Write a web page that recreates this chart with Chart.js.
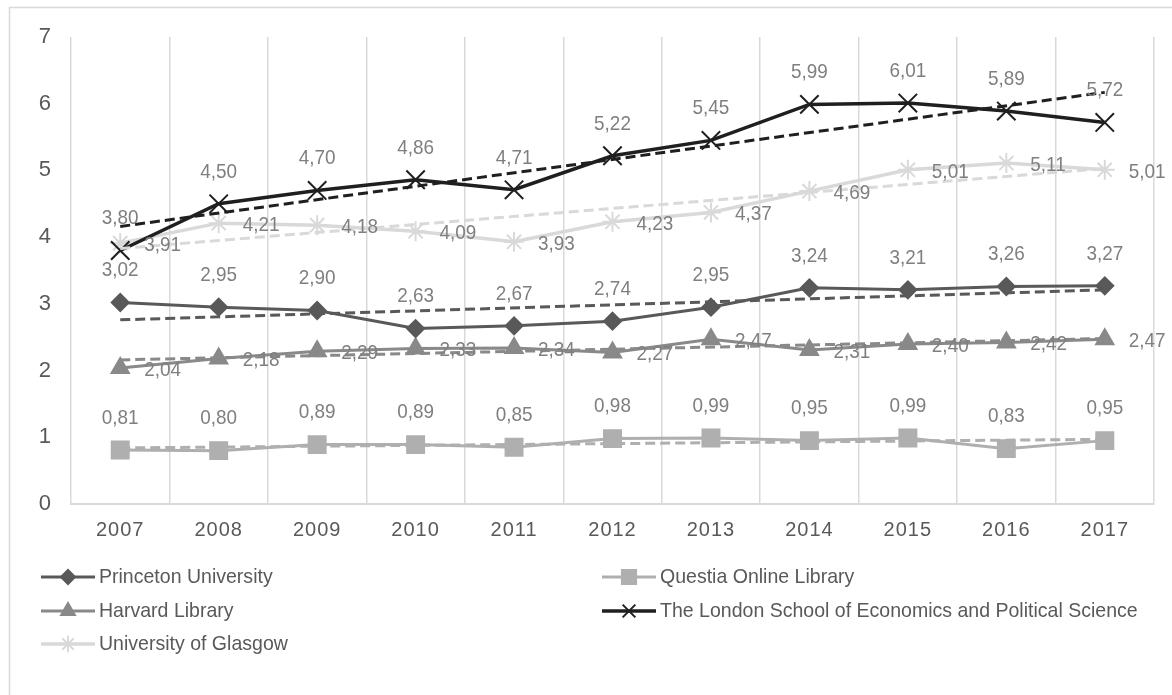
<!DOCTYPE html>
<html>
<head>
<meta charset="utf-8">
<script src="https://cdn.jsdelivr.net/npm/chart.js@4.4.1/dist/chart.umd.min.js"></script>
<style>
html, body { margin: 0; padding: 0; background: #fff; overflow: hidden; }
#wrap { position: relative; width: 1172px; height: 695px; }
</style>
</head>
<body>
<div id="wrap"><canvas id="chart"></canvas></div>
<script>
var FONT = "'Liberation Sans', Arial, sans-serif";

var years = ['2007', '2008', '2009', '2010', '2011', '2012', '2013', '2014', '2015', '2016', '2017'];
var yTicks = [0, 1, 2, 3, 4, 5, 6, 7];

var princeton = [3.02, 2.95, 2.90, 2.63, 2.67, 2.74, 2.95, 3.24, 3.21, 3.26, 3.27];
var questia   = [0.81, 0.80, 0.89, 0.89, 0.85, 0.98, 0.99, 0.95, 0.99, 0.83, 0.95];
var harvard   = [2.04, 2.18, 2.29, 2.33, 2.34, 2.27, 2.47, 2.31, 2.40, 2.42, 2.47];
var lse       = [3.80, 4.50, 4.70, 4.86, 4.71, 5.22, 5.45, 5.99, 6.01, 5.89, 5.72];
var glasgow   = [3.91, 4.21, 4.18, 4.09, 3.93, 4.23, 4.37, 4.69, 5.01, 5.11, 5.01];

// dashed trend lines: value at 2007 and at 2017
var princetonTrend = [2.76, 3.21];
var questiaTrend   = [0.84, 0.97];
var harvardTrend   = [2.16, 2.48];
var lseTrend       = [4.16, 6.17];
var glasgowTrend   = [3.83, 5.03];

function trendData(pair) {
    var d = years.map(function () { return null; });
    d[0] = pair[0];
    d[d.length - 1] = pair[1];
    return d;
}

function series(label, data, color, style, radius, width, labelPos, legendRadius) {
    return {
        label: label,
        data: data,
        borderColor: color,
        backgroundColor: color,
        pointBackgroundColor: color,
        pointBorderColor: color,
        borderWidth: width,
        pointStyle: style,
        pointRadius: radius,
        pointBorderWidth: 2,
        pointHoverRadius: radius,
        tension: 0,
        order: 1,
        labelPos: labelPos,
        legendRadius: legendRadius
    };
}

function trend(data, color) {
    return {
        label: '',
        data: data,
        borderColor: color,
        borderWidth: 3,
        borderDash: [10, 5],
        pointRadius: 0,
        spanGaps: true,
        order: 0
    };
}

var datasets = [
    series('Princeton University', princeton, '#595959', 'rectRot', 8.5, 3, 'above', 7),
    series('Questia Online Library', questia, '#afafaf', 'rect', 12, 3, 'above', 10),
    series('Harvard Library', harvard, '#898989', 'triangle', 10, 3, 'right', 8),
    series('The London School of Economics and Political Science', lse, '#1f1f1f', 'crossRot', 13, 3.5, 'above', 9),
    series('University of Glasgow', glasgow, '#d9d9d9', 'star', 10, 3.5, 'right', 8),
    trend(trendData(princetonTrend), '#595959'),
    trend(trendData(questiaTrend), '#afafaf'),
    trend(trendData(harvardTrend), '#898989'),
    trend(trendData(lseTrend), '#1f1f1f'),
    trend(trendData(glasgowTrend), '#d9d9d9')
];

// legend slots: [dataset index, line start x, row y]
var legendSlots = [[0, 41, 577], [1, 602, 577], [2, 41, 611], [3, 602, 611], [4, 41, 644]];

// draws text squeezed sideways, the source uses a narrow face
function narrowText(ctx, txt, x, y, squeeze) {
    ctx.save();
    ctx.translate(x, y);
    ctx.scale(squeeze, 1);
    ctx.fillText(txt, 0, 0);
    ctx.restore();
}

var framePlugin = {
    id: 'frame',
    beforeDraw: function (chart) {
        var ctx = chart.ctx;
        ctx.save();
        ctx.strokeStyle = '#d9d9d9';
        ctx.lineWidth = 1.5;
        ctx.strokeRect(9.5, 7.5, 1180, 720);
        ctx.restore();
        ctx.letterSpacing = '1px';
    },
    beforeDatasetsDraw: function (chart) {
        chart.ctx.letterSpacing = '0px';
    }
};

var valueLabels = {
    id: 'valueLabels',
    afterDatasetsDraw: function (chart) {
        var ctx = chart.ctx;
        ctx.save();
        ctx.font = '21px ' + FONT;
        ctx.fillStyle = '#7f7f7f';
        ctx.textBaseline = 'middle';
        chart.data.datasets.forEach(function (ds, i) {
            if (!ds.labelPos) return;
            var meta = chart.getDatasetMeta(i);
            meta.data.forEach(function (pt, j) {
                var txt = ds.data[j].toFixed(2).replace('.', ',');
                if (ds.labelPos === 'above') {
                    ctx.textAlign = 'center';
                    narrowText(ctx, txt, pt.x, pt.y - 32, 0.9);
                } else {
                    ctx.textAlign = 'left';
                    narrowText(ctx, txt, pt.x + 24, pt.y + 2, 0.9);
                }
            });
        });
        ctx.restore();
    }
};

var sideLegend = {
    id: 'sideLegend',
    afterDraw: function (chart) {
        var ctx = chart.ctx;
        ctx.save();
        legendSlots.forEach(function (slot) {
            var ds = chart.data.datasets[slot[0]];
            var x0 = slot[1], y = slot[2];
            ctx.strokeStyle = ds.borderColor;
            ctx.fillStyle = ds.borderColor;
            ctx.lineWidth = ds.borderWidth;
            ctx.beginPath();
            ctx.moveTo(x0, y);
            ctx.lineTo(x0 + 54, y);
            ctx.stroke();
            ctx.lineWidth = 2;
            Chart.helpers.drawPoint(ctx, {
                pointStyle: ds.pointStyle,
                radius: ds.legendRadius,
                rotation: 0,
                borderWidth: 2
            }, x0 + 27, y);
            ctx.fillStyle = '#595959';
            ctx.font = '21px ' + FONT;
            ctx.textAlign = 'left';
            ctx.textBaseline = 'middle';
            narrowText(ctx, ds.label, x0 + 58, y, 0.93);
        });
        ctx.restore();
    }
};

var ctx = document.getElementById('chart').getContext('2d');
var lineChart = new Chart(ctx, {
    type: 'line',
    data: {
        labels: years,
        datasets: datasets
    },
    options: {
        responsive: true,
        maintainAspectRatio: false,
        animation: false,
        layout: {
            padding: { left: 0, top: 37, right: 18, bottom: 131 }
        },
        scales: {
            x: {
                offset: true,
                grid: {
                    offset: true,
                    color: '#d9d9d9',
                    lineWidth: 1.5,
                    drawTicks: false
                },
                border: { color: '#d9d9d9', width: 2 },
                ticks: {
                    color: '#595959',
                    font: { family: FONT, size: 20 },
                    padding: 14,
                    maxRotation: 0
                },
                afterFit: function (s) { s.height = 60; }
            },
            y: {
                min: yTicks[0],
                max: yTicks[yTicks.length - 1],
                grid: { display: false, drawTicks: false },
                border: { display: false },
                ticks: {
                    stepSize: 1,
                    color: '#595959',
                    font: { family: FONT, size: 22 },
                    padding: 19
                },
                afterFit: function (s) { s.width = 71; }
            }
        },
        plugins: {
            legend: { display: false },
            tooltip: { enabled: false }
        }
    },
    plugins: [framePlugin, valueLabels, sideLegend]
});
</script>
</body>
</html>
